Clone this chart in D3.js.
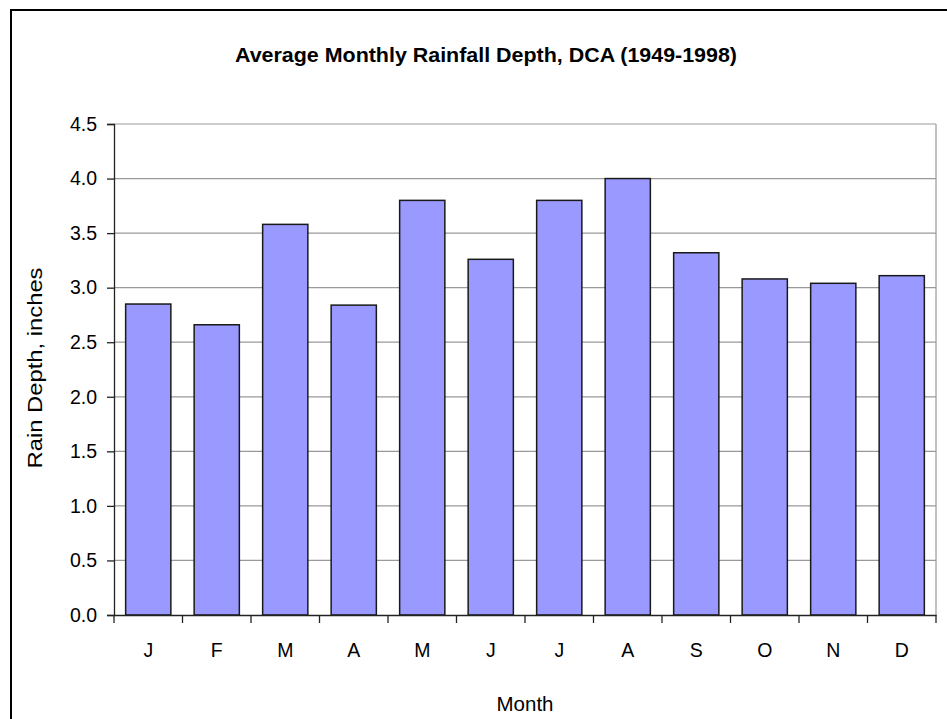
<!DOCTYPE html>
<html>
<head>
<meta charset="utf-8">
<script src="https://cdn.jsdelivr.net/npm/d3@7"></script>
<style>
  body { margin: 0; background: #fff; }
  svg text { font-family: "Liberation Sans", Arial, sans-serif; fill: #000; }
</style>
</head>
<body>
<svg id="chart" width="947" height="719"></svg>
<script>
// data
var months = ["J", "F", "M", "A", "M", "J", "J", "A", "S", "O", "N", "D"];
var rainfall = [2.85, 2.66, 3.58, 2.84, 3.80, 3.26, 3.80, 4.00, 3.32, 3.08, 3.04, 3.11];
var yTicks = [0, 0.5, 1.0, 1.5, 2.0, 2.5, 3.0, 3.5, 4.0, 4.5];

var svg = d3.select("#chart"),
    margin = { top: 124, right: 11, bottom: 104, left: 114 },
    width = +svg.attr("width") - margin.left - margin.right,
    height = +svg.attr("height") - margin.top - margin.bottom;

// outer chart frame (runs off the right and bottom of the picture)
svg.append("rect")
    .attr("x", 11)
    .attr("y", 10)
    .attr("width", 960)
    .attr("height", 760)
    .attr("fill", "none")
    .attr("stroke", "#000")
    .attr("stroke-width", 2);

var idx = months.map(function (d, i) { return i; });

var x = d3.scaleBand().domain(idx).range([0, width])
    .paddingInner(0.34).paddingOuter(0.17);
var y = d3.scaleLinear().domain([0, 4.5]).range([height, 0]);

var g = svg.append("g")
    .attr("transform", "translate(" + margin.left + "," + margin.top + ")");

// gridlines
g.selectAll(".grid")
    .data(yTicks.slice(1))
    .enter().append("line")
    .attr("class", "grid")
    .attr("x1", 0)
    .attr("x2", width)
    .attr("y1", function (d) { return y(d); })
    .attr("y2", function (d) { return y(d); })
    .attr("stroke", "#999")
    .attr("stroke-width", 1.2);

// right border of plot area
g.append("line")
    .attr("x1", width).attr("x2", width)
    .attr("y1", 0).attr("y2", height)
    .attr("stroke", "#999")
    .attr("stroke-width", 1.2);

// bars
g.selectAll(".bar")
    .data(rainfall)
    .enter().append("rect")
    .attr("class", "bar")
    .attr("x", function (d, i) { return x(i); })
    .attr("width", x.bandwidth())
    .attr("y", function (d) { return y(d); })
    .attr("height", function (d) { return height - y(d); })
    .attr("fill", "#9999ff")
    .attr("stroke", "#1a1a1a")
    .attr("stroke-width", 1.5);

// y axis
var yAxis = g.append("g")
    .attr("class", "axis axis--y")
    .call(d3.axisLeft(y).tickValues(yTicks).tickSize(7).tickPadding(10)
        .tickFormat(d3.format(".1f")));
yAxis.select(".domain").attr("stroke", "#222").attr("stroke-width", 1.3);
yAxis.selectAll(".tick line").attr("stroke", "#222").attr("stroke-width", 1.3);
yAxis.selectAll("text")
    .style("font-size", "19.5px")
    .attr("fill", "#000");

// x axis, ticks sit between the categories
var xAxis = g.append("g")
    .attr("class", "axis axis--x")
    .attr("transform", "translate(0," + height + ")")
    .call(d3.axisBottom(x).tickSize(8).tickPadding(20).tickSizeOuter(0)
        .tickFormat(function (i) { return months[i]; }));
xAxis.select(".domain").attr("stroke", "#222").attr("stroke-width", 1.3);
xAxis.selectAll(".tick line")
    .attr("x1", -x.step() / 2)
    .attr("x2", -x.step() / 2)
    .attr("stroke", "#222")
    .attr("stroke-width", 1.3);
xAxis.append("line")
    .attr("x1", width).attr("x2", width)
    .attr("y1", 0).attr("y2", 8)
    .attr("stroke", "#222")
    .attr("stroke-width", 1.3);
xAxis.selectAll("text")
    .style("font-size", "19.5px")
    .attr("fill", "#000");

// title
svg.append("text")
    .attr("x", 486)
    .attr("y", 62)
    .attr("text-anchor", "middle")
    .attr("textLength", 502)
    .attr("lengthAdjust", "spacingAndGlyphs")
    .style("font-size", "21px")
    .style("font-weight", "bold")
    .text("Average Monthly Rainfall Depth, DCA (1949-1998)");

// axis titles
svg.append("text")
    .attr("x", margin.left + width / 2)
    .attr("y", 711)
    .attr("text-anchor", "middle")
    .style("font-size", "20.5px")
    .text("Month");

svg.append("text")
    .attr("transform", "translate(42,368) rotate(-90)")
    .attr("text-anchor", "middle")
    .attr("textLength", 201)
    .attr("lengthAdjust", "spacingAndGlyphs")
    .style("font-size", "21px")
    .text("Rain Depth, inches");
</script>
</body>
</html>
